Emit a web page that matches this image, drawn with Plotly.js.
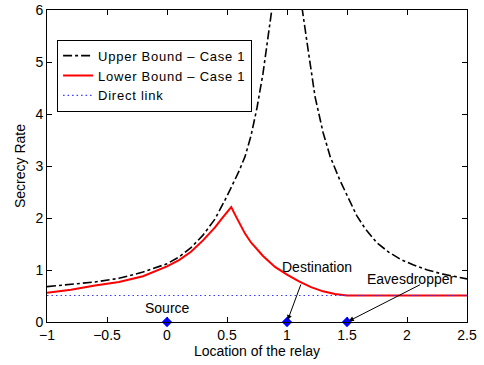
<!DOCTYPE html>
<html>
<head>
<meta charset="utf-8">
<script src="https://cdn.plot.ly/plotly-3.0.1.min.js"></script>
<style>html,body{margin:0;padding:0;background:#fff;}#chart{width:484px;height:365px;}
svg text.legendtext{letter-spacing:0.75px !important;}</style>
</head>
<body>
<div id="chart"></div>
<script>
// Upper bound - Case 1 (null = curve leaves the plot above 6)
const upperX = [-1.0,-0.8,-0.6,-0.4,-0.2,0.0,0.1,0.2,0.3,0.4,0.5,0.6,0.65,0.7,0.75,0.8,0.85,0.873,0.89,1.0,1.11,1.128,1.18,1.234,1.30,1.36,1.44,1.5,1.58,1.65,1.75,1.85,1.95,2.05,2.17,2.3,2.4,2.5];
const upperY = [0.68,0.72,0.77,0.84,0.96,1.12,1.25,1.43,1.67,1.98,2.42,2.90,3.18,3.58,4.12,4.78,5.55,6.0,6.4,null,6.4,6.0,5.17,4.33,3.65,3.18,2.73,2.45,2.05,1.80,1.52,1.34,1.20,1.10,1.00,0.92,0.87,0.83];
// Lower bound - Case 1
const lowerX = [-1.0,-0.8,-0.6,-0.4,-0.2,0.0,0.1,0.2,0.3,0.4,0.45,0.5,0.535,0.57,0.6,0.65,0.7,0.8,0.9,1.0,1.1,1.2,1.3,1.4,1.5,2.0,2.5];
const lowerY = [0.56,0.62,0.70,0.77,0.88,1.07,1.19,1.35,1.57,1.82,1.97,2.12,2.21,2.05,1.91,1.70,1.53,1.27,1.06,0.91,0.78,0.67,0.59,0.54,0.51,0.51,0.51];
// Direct link
const directX = [-1.0, 2.5];
const directY = [0.51, 0.51];
// Node positions
const nodeNames = ["Source","Destination","Eavesdropper"];
const nodeX = [0, 1, 1.5];
const nodeY = [0, 0, 0];
const xTicks = [-1,-0.5,0,0.5,1,1.5,2,2.5];
const yTicks = [0,1,2,3,4,5,6];

const fam = '"Liberation Sans", Arial, Helvetica, sans-serif';
const font = {family: fam, size: 14, color: '#000'};
const legendFont = {family: fam, size: 13, color: '#000'};

const traces = [
  {x: upperX, y: upperY, mode: 'lines', name: 'Upper Bound \u2013 Case 1',
   line: {color: '#000', width: 1.6, dash: 'dashdot'}, connectgaps: false},
  {x: lowerX, y: lowerY, mode: 'lines', name: 'Lower Bound \u2013 Case 1',
   line: {color: '#ff0000', width: 2}},
  {x: directX, y: directY, mode: 'lines', name: 'Direct link',
   line: {color: '#3a3aff', width: 1.2, dash: '1.5px,3px'}},
  {x: nodeX, y: nodeY, mode: 'markers', showlegend: false, cliponaxis: false,
   marker: {symbol: 'diamond', color: '#0000ff', size: 8}}
];

const axisCommon = {
  showgrid: false, zeroline: false, showline: true, linecolor: '#000', linewidth: 1,
  mirror: 'ticks', ticks: 'inside', ticklen: 5, tickcolor: '#000', tickfont: font
};

const layout = {
  width: 484, height: 365,
  margin: {l: 47, r: 17, t: 10, b: 43},
  paper_bgcolor: '#fff', plot_bgcolor: '#fff',
  font: font,
  showlegend: true,
  legend: {x: 0.024, y: 0.905, xanchor: 'left', yanchor: 'top',
           bordercolor: '#000', borderwidth: 1, bgcolor: '#fff', font: legendFont,
           tracegroupgap: 0},
  xaxis: Object.assign({}, axisCommon, {range: [-1, 2.5], tickvals: xTicks,
           title: {text: 'Location of the relay', font: font, standoff: 0}}),
  yaxis: Object.assign({}, axisCommon, {range: [0, 6], tickvals: yTicks,
           title: {text: 'Secrecy Rate', font: font, standoff: 6}}),
  annotations: [
    {x: nodeX[0], y: 0.27, xref: 'x', yref: 'y', text: nodeNames[0], showarrow: false, font: font},
    {x: 1.25, y: 1.05, xref: 'x', yref: 'y', text: nodeNames[1], showarrow: false, font: font},
    {x: 2.03, y: 0.83, xref: 'x', yref: 'y', text: nodeNames[2], showarrow: false, font: font},
    {x: nodeX[1], y: nodeY[1], xref: 'x', yref: 'y', axref: 'x', ayref: 'y', ax: 1.12, ay: 0.75,
     text: '', showarrow: true, arrowhead: 2, arrowsize: 1, arrowwidth: 1, arrowcolor: '#000', standoff: 2},
    {x: nodeX[2], y: nodeY[2], xref: 'x', yref: 'y', axref: 'x', ayref: 'y', ax: 2.12, ay: 0.73,
     text: '', showarrow: true, arrowhead: 2, arrowsize: 1, arrowwidth: 1, arrowcolor: '#000', standoff: 2}
  ]
};

Plotly.newPlot('chart', traces, layout, {staticPlot: true, displayModeBar: false});
</script>
</body>
</html>
